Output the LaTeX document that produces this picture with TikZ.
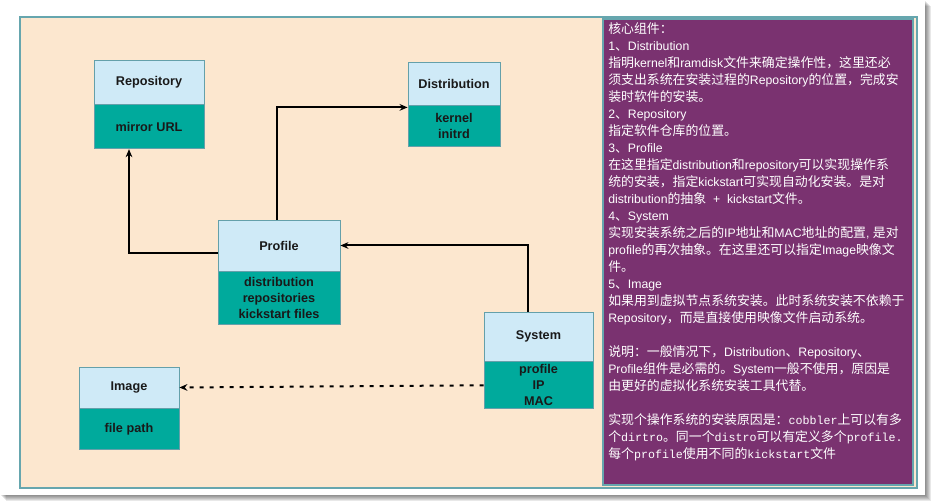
\documentclass[tikz,border=0pt]{standalone}
\usepackage{fontspec}
\setmainfont{Liberation Sans}
\setmonofont[Scale=0.95]{Liberation Mono}
\newfontfamily\cjk[Scale=1.05]{Noto Sans CJK SC}
\usetikzlibrary{positioning,arrows.meta}

% switch to the CJK font for Chinese characters
\XeTeXinterchartokenstate=1
\newXeTeXintercharclass\zhclass
\newcount\zhchar
\def\zhrange#1#2{\zhchar=#1 \loop\XeTeXcharclass\zhchar=\zhclass \ifnum\zhchar<#2 \advance\zhchar by 1 \repeat}
\zhrange{"3000}{"303F}
\zhrange{"4E00}{"9FFF}
\zhrange{"FF00}{"FFEF}
\XeTeXinterchartoks 0 \zhclass = {\begingroup\cjk}
\XeTeXinterchartoks 4095 \zhclass = {\begingroup\cjk}
\XeTeXinterchartoks \zhclass 0 = {\endgroup}
\XeTeXinterchartoks \zhclass 4095 = {\endgroup}

\definecolor{framefill}{RGB}{252,231,207}
\definecolor{frameline}{RGB}{102,166,174}
\definecolor{panel}{RGB}{122,50,112}
\definecolor{headfill}{RGB}{207,234,247}
\definecolor{bodyfill}{RGB}{0,170,156}
\definecolor{boxline}{RGB}{100,160,170}

\begin{document}
\begin{tikzpicture}[x=0.75pt,y=-0.75pt,
  head/.style={draw=boxline,fill=headfill,line width=0.6pt,inner sep=0pt,
    font=\fontsize{9.5}{12}\selectfont\bfseries,text=black!90,align=center},
  body/.style={head,fill=bodyfill},
  arr/.style={line width=1.5pt,-{Stealth[length=6pt,width=5pt]}},
  dots/.style={arr,dash pattern=on 3pt off 4.5pt}]
  \useasboundingbox (0,0) rectangle (931,502);
  \foreach \s in {1,...,6}
    \fill[black,opacity=0.09] (\s,\s) rectangle (925+\s,495+\s);
  \fill[white] (0,0) rectangle (925,495);
  \draw[frameline,line width=1pt,fill=framefill] (20,17) rectangle (917,488);
  \draw[frameline,line width=1pt,fill=panel] (603,19) rectangle (913,485);

  \node [head,minimum width=82.5pt,minimum height=33pt] (repo) at (149,82) {Repository};
  \node [body,minimum width=82.5pt,minimum height=33pt] (repoB) [below=0pt of repo] {mirror URL};
  \node [head,minimum width=69pt,minimum height=32.25pt] (dist) at (454,83.5) {Distribution};
  \node [body,minimum width=69pt,minimum height=30.75pt] (distB) [below=0pt of dist] {kernel\\initrd};
  \node [head,minimum width=91.5pt,minimum height=38.25pt] (prof) at (279,245.5) {Profile};
  \node [body,minimum width=91.5pt,minimum height=39.75pt] (profB) [below=0pt of prof] {distribution\\repositories\\kickstart files};
  \node [head,minimum width=81.75pt,minimum height=36.75pt] (sys) at (538.5,336.5) {System};
  \node [body,minimum width=81.75pt,minimum height=35.25pt] (sysB) [below=0pt of sys] {profile\\IP\\MAC};
  \node [head,minimum width=75pt,minimum height=30.75pt] (img) at (129,387.5) {Image};
  \node [body,minimum width=75pt,minimum height=30.75pt] (imgB) [below=0pt of img] {file path};

  \draw[arr] ([yshift=-5.6pt]prof.west) -| ([xshift=-15pt]repoB.south);
  \draw[arr] ([xshift=-1.5pt]prof.north) |- ([yshift=-1.5pt]distB.north west);
  \draw[arr] ([xshift=-7.9pt]sys.north) |- (prof.east);
  \draw[dots] (sysB.west) -- (img.east);

  \node [anchor=north west,inner sep=0pt,align=left,text=white,
    font=\fontsize{9.2}{12.75}\selectfont] (notes) at (608,22.5) {%
    核心组件：\\
    1、Distribution\\
    指明kernel和ramdisk文件来确定操作性，这里还必\\
    须支出系统在安装过程的Repository的位置，完成安\\
    装时软件的安装。\\
    2、Repository\\
    指定软件仓库的位置。\\
    3、Profile\\
    在这里指定distribution和repository可以实现操作系\\
    统的安装，指定kickstart可实现自动化安装。是对\\
    distribution的抽象 \ + \ kickstart文件。\\
    4、System\\
    实现安装系统之后的IP地址和MAC地址的配置, 是对\\
    profile的再次抽象。在这里还可以指定Image映像文\\
    件。\\
    5、Image\\
    如果用到虚拟节点系统安装。此时系统安装不依赖于\\
    Repository，而是直接使用映像文件启动系统。\\[12.75pt]
    说明：一般情况下，Distribution、Repository、\\
    Profile组件是必需的。System一般不使用，原因是\\
    由更好的虚拟化系统安装工具代替。\\[12.75pt]
    实现个操作系统的安装原因是：{\ttfamily cobbler}上可以有多\\
    个{\ttfamily dirtro}。同一个{\ttfamily distro}可以有定义多个{\ttfamily profile.}\\
    每个{\ttfamily profile}使用不同的{\ttfamily kickstart}文件};
\end{tikzpicture}
\end{document}
